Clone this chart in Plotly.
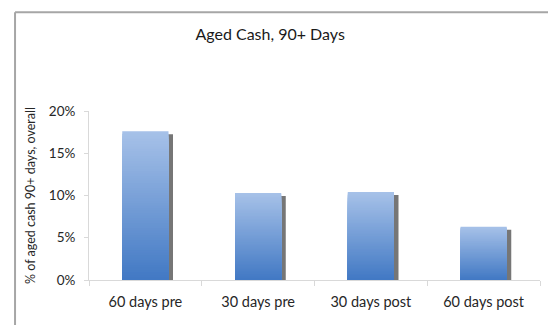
import plotly.graph_objects as go

# Share of cash aged 90+ days, by period
categories = ["60 days pre", "30 days pre", "30 days post", "60 days post"]
aged_pct = [17.6, 10.3, 10.4, 6.3]

title_text = "Aged Cash, 90+ Days"
y_title = "% of aged cash 90+ days, overall"
y_ticks = [0, 5, 10, 15, 20]
y_tick_text = ["0%", "5%", "10%", "15%", "20%"]

FONT = "Lato, Open Sans, sans-serif"
TOP_RGB = (166, 193, 232)
BOTTOM_RGB = (66, 121, 196)
N_STEPS = 60
BAR_W = 0.41

fig = go.Figure()

# drop shadow behind each bar, slightly right and lower
fig.add_trace(go.Bar(
    x=categories,
    y=[v - 0.35 for v in aged_pct],
    width=BAR_W,
    offset=-BAR_W / 2 + 0.04,
    marker=dict(color="#767676", line=dict(width=0)),
    hoverinfo="skip",
    showlegend=False,
))

# vertical gradient: nested bars from full height (lightest) down to the
# shortest (darkest), each drawn over the previous one so no seams show
def blend(t):
    r = [round(BOTTOM_RGB[i] + (TOP_RGB[i] - BOTTOM_RGB[i]) * t) for i in range(3)]
    return f"rgb({r[0]},{r[1]},{r[2]})"

for k in range(N_STEPS, 0, -1):
    t = (k - 1) / (N_STEPS - 1)
    fig.add_trace(go.Bar(
        x=categories,
        y=[v * k / N_STEPS for v in aged_pct],
        width=BAR_W,
        offset=-BAR_W / 2,
        marker=dict(color=blend(t), line=dict(width=0)),
        hoverinfo="skip",
        showlegend=False,
    ))

FRAME_X = -0.164
FRAME_Y = 1.585
frame_line = dict(color="#a6a6a6", width=2)

fig.update_layout(
    width=548,
    height=325,
    margin=dict(l=89, r=8, t=111, b=45),
    paper_bgcolor="white",
    plot_bgcolor="white",
    barmode="overlay",
    showlegend=False,
    font=dict(family=FONT, color="#262626", size=13),
    title=dict(
        text=title_text,
        x=0.493, xanchor="center",
        y=0.895, yanchor="middle",
        font=dict(family=FONT, size=16, color="#1a1a1a"),
    ),
    xaxis=dict(
        type="category",
        showgrid=False,
        showline=True,
        linecolor="#d9d9d9",
        linewidth=1,
        ticks="outside",
        tickson="boundaries",
        ticklen=5,
        tickcolor="#d9d9d9",
        tickfont=dict(size=14.5, color="#262626"),
        ticklabelstandoff=9,
    ),
    yaxis=dict(
        range=[0, 20],
        tickmode="array",
        tickvals=y_ticks,
        ticktext=y_tick_text,
        showgrid=False,
        zeroline=False,
        showline=True,
        linecolor="#d9d9d9",
        linewidth=1,
        ticks="outside",
        ticklen=4,
        tickcolor="#d9d9d9",
        tickfont=dict(size=13.5, color="#262626"),
        ticklabelstandoff=6,
        title=dict(text=y_title, font=dict(size=12.5, color="#262626"), standoff=10),
    ),
    # chart-area frame: only its left and top edges fall inside the view
    shapes=[
        dict(type="line", xref="paper", yref="paper",
             x0=FRAME_X, x1=FRAME_X, y0=-1.0, y1=FRAME_Y, line=frame_line),
        dict(type="line", xref="paper", yref="paper",
             x0=FRAME_X, x1=1.5, y0=FRAME_Y, y1=FRAME_Y, line=frame_line),
    ],
)

fig.write_html("out.html")
